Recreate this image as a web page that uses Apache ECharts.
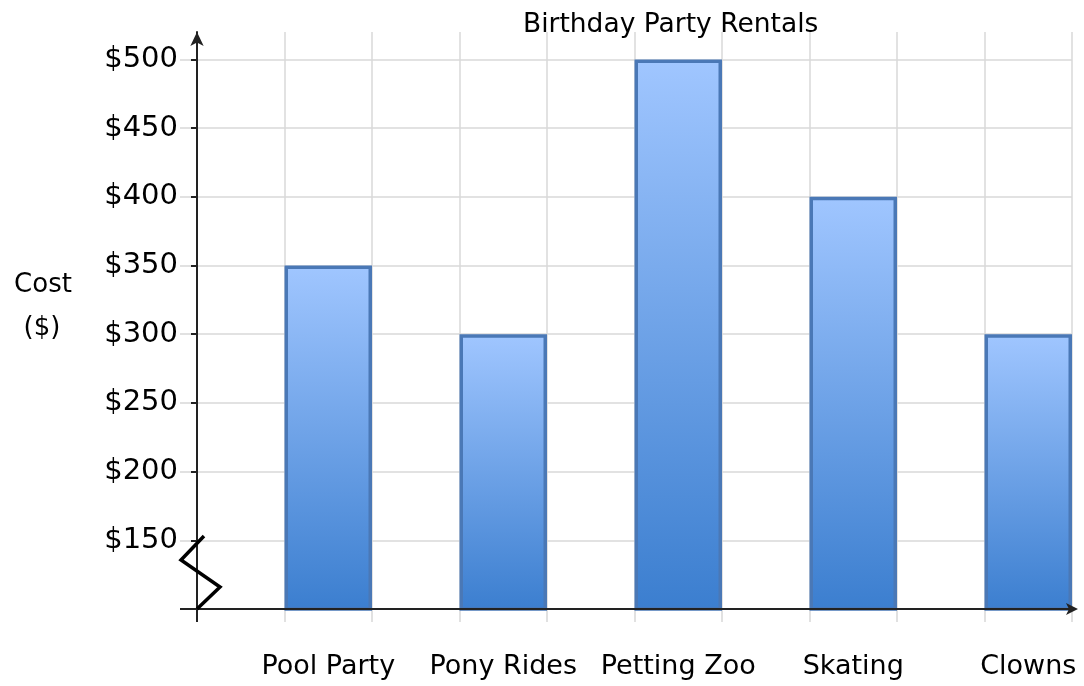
<!DOCTYPE html>
<html>
<head>
<meta charset="utf-8">
<script src="https://cdn.jsdelivr.net/npm/echarts@6/dist/echarts.min.js"></script>
<style>html,body{margin:0;padding:0;background:#fff}#c{width:1084px;height:686px}</style>
</head>
<body>
<div id="c"></div>
<script>
const titleText = 'Birthday Party Rentals';
const yNameLines = ['Cost', '($)'];
const categories = ['Pool Party', 'Pony Rides', 'Petting Zoo', 'Skating', 'Clowns'];
const costs = [350, 300, 500, 400, 300];
const yMin = 100, yMax = 520, yStep = 50;
const yTickValues = [150, 200, 250, 300, 350, 400, 450, 500];

const FONT = 'DejaVu Sans';
const chart = echarts.init(document.getElementById('c'));

const option = {
  animation: false,
  backgroundColor: '#fff',
  title: {
    text: titleText, left: 518, top: 7,
    textStyle: { fontFamily: FONT, fontSize: 26.5, fontWeight: 'normal', color: '#000' }
  },
  grid: { left: 197, right: 12, top: 32, bottom: 77, containLabel: false },
  xAxis: [
    {
      type: 'category', data: categories, boundaryGap: true, z: 5,
      axisLine: { show: true, lineStyle: { color: '#222', width: 2 }, symbol: ['none', 'arrow'], symbolSize: [9, 12], symbolOffset: [0, 6] },
      axisTick: { show: false },
      splitLine: { show: false },
      axisLabel: { fontFamily: FONT, fontSize: 27, color: '#000', margin: 44, padding: [0, 0, 0, 87.5], interval: 0 }
    },
    {
      type: 'value', min: 0, max: 10, interval: 1, position: 'bottom',
      axisLine: { show: false }, axisLabel: { show: false },
      axisTick: { show: true, length: 13, lineStyle: { color: '#d8d8d8', width: 1.5 } },
      splitLine: { show: true, lineStyle: { color: '#d8d8d8', width: 1.5 } }
    }
  ],
  yAxis: [
    {
      type: 'value', min: yMin, max: yMax, interval: yStep,
      axisLine: { show: true, lineStyle: { color: '#222', width: 2 }, symbol: ['none', 'arrow'], symbolSize: [10, 14] },
      axisTick: { show: true, length: 17, lineStyle: { color: '#d8d8d8', width: 1.5 } },
      splitLine: { show: true, showMinLine: false, showMaxLine: false, lineStyle: { color: '#d8d8d8', width: 1.5 } },
      axisLabel: { fontFamily: FONT, fontSize: 29, color: '#000', margin: 19, showMinLabel: false, showMaxLabel: false, formatter: v => '$' + v }
    },
    {
      type: 'value', min: yMin, max: yMax, interval: yStep, position: 'left', z: 6,
      axisLine: { show: false }, axisLabel: { show: false }, splitLine: { show: false },
      axisTick: { show: true, length: 6, customValues: yTickValues, lineStyle: { color: '#222', width: 2 } }
    }
  ],
  series: [
    { type: 'bar', name: 'spacer', data: categories.map(() => null), barGap: '0%', barCategoryGap: '0%', silent: true },
    {
      type: 'bar', name: 'Cost', data: costs, barGap: '0%', barCategoryGap: '0%', z: 3,
      itemStyle: {
        borderColor: '#4a78b6', borderWidth: 3.5,
        color: new echarts.graphic.LinearGradient(0, 0, 0, 1, [
          { offset: 0, color: '#a0c6ff' },
          { offset: 1, color: '#3b7ecf' }
        ])
      }
    }
  ]
};
chart.setOption(option);

const x0 = chart.convertToPixel({ xAxisIndex: 1 }, 0);
const yb = chart.convertToPixel({ yAxisIndex: 0 }, yMin);
chart.setOption({
  graphic: [
    { type: 'line', z: 10, shape: { x1: x0, y1: yb, x2: x0, y2: yb + 13 }, style: { stroke: '#222', lineWidth: 2 } },
    { type: 'line', z: 10, shape: { x1: x0 - 17, y1: yb, x2: x0, y2: yb }, style: { stroke: '#222', lineWidth: 2 } },
    { type: 'polyline', z: 10, shape: { points: [[x0 + 7, yb - 73], [x0 - 16, yb - 49], [x0 + 23, yb - 22], [x0, yb]] }, style: { stroke: '#000', lineWidth: 3.5, fill: null } },
    { type: 'text', z: 10, x: 43, y: 285, style: { text: yNameLines[0], font: '26px "DejaVu Sans"', fill: '#000', textAlign: 'center', textVerticalAlign: 'middle' } },
    { type: 'text', z: 10, x: 42, y: 328, style: { text: yNameLines[1], font: '26px "DejaVu Sans"', fill: '#000', textAlign: 'center', textVerticalAlign: 'middle' } }
  ]
});
</script>
</body>
</html>
